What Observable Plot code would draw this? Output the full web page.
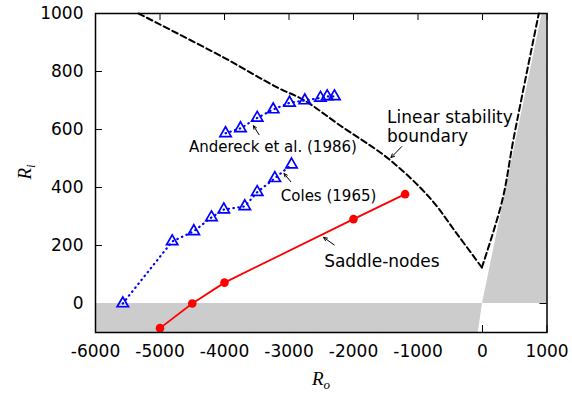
<!DOCTYPE html>
<html>
<head>
<meta charset="utf-8">
<script src="https://cdn.jsdelivr.net/npm/d3@7"></script>
<script src="https://cdn.jsdelivr.net/npm/@observablehq/plot@0.6"></script>
<style>
  html, body { margin: 0; padding: 0; background: white; }
</style>
</head>
<body>
<div id="chart"></div>
<script>
// ---- data ----
const xTicks = [-6000, -5000, -4000, -3000, -2000, -1000, 0, 1000];
const yTicks = [0, 200, 400, 600, 800, 1000];

// Andereck et al. (1986) — upper blue triangles
const anderRo = [-3984, -3752, -3493, -3245, -2992, -2755, -2512, -2408, -2295];
const anderRi = [587, 604, 640, 669, 692, 700, 709, 714, 714];

// Coles (1965) — lower blue triangles
const colesRo = [-5577, -4811, -4476, -4202, -4011, -3685, -3493, -3220, -2961];
const colesRi = [0, 214, 249, 297, 324, 335, 384, 432, 479];

// Saddle-nodes — red
const saddleRo = [-5000, -4500, -4000, -2000, -1200];
const saddleRi = [-85, 0, 72, 291, 377];

// Linear stability boundary — dashed black (left branch, then right branch from the cusp)
const linLeftRo = [-5333, -4011, -3183, -2775, -2202, -1457, -820, -392, -10];
const linLeftRi = [1000, 848, 745, 702, 613, 499, 365, 239, 124];
const linRightRo = [-10, 305, 485, 873];
const linRightRi = [124, 354, 572, 1000];

// Grey (Rayleigh-stable) regions
const bandRi = [-100, 0];
const bandEdgeRo = [-65, 0];
const wedgeRi = [0, 1000];
const wedgeEdgeRo = [0, 925];

// Annotations
const labelText = ["Andereck et al. (1986)", "Coles (1965)", "Saddle-nodes", "Linear stability\nboundary"];
const labelRo = [-4551, -3127, -2455, -1481];
const labelRi = [563, 394, 172, 666];
const labelSize = [15, 15, 17, 17];

const arrowFromRo = [-3464, -2972, -2300, -1253];
const arrowFromRi = [582, 420, 202, 541];
const arrowToRo = [-3551, -3076, -2464, -1419];
const arrowToRi = [613, 448, 228, 503];

// ---- build tables ----
const zip = (xs, ys) => xs.map((x, i) => ({Ro: x, Ri: ys[i]}));
const ander = zip(anderRo, anderRi);
const coles = zip(colesRo, colesRi);
const saddle = zip(saddleRo, saddleRi);
const linLeft = zip(linLeftRo, linLeftRi);
const linRight = zip(linRightRo, linRightRi);
const band = bandRi.map((r, i) => ({Ri: r, edge: bandEdgeRo[i]}));
const wedge = wedgeRi.map((r, i) => ({Ri: r, edge: wedgeEdgeRo[i]}));
const labels = labelText.map((t, i) => ({t, Ro: labelRo[i], Ri: labelRi[i], s: labelSize[i]}));
const arrows = arrowFromRo.map((x, i) => ({x1: x, y1: arrowFromRi[i], x2: arrowToRo[i], y2: arrowToRi[i]}));

const xMin = -6000, xMax = 1000, yMin = -100, yMax = 1000;
const tickLenY = 24;   // 7px in Ri units
const tickLenX = 108;  // 7px in Ro units
const grey = "#cccccc";
const dashed = {x: "Ro", y: "Ri", stroke: "black", strokeWidth: 2, strokeDasharray: "6,3.5", curve: "catmull-rom"};
const dotted = {x: "Ro", y: "Ri", stroke: "blue", strokeWidth: 2.2, strokeDasharray: "0.5,4.5", strokeLinecap: "round"};
const tri = {x: "Ro", y: "Ri", symbol: "triangle", r: 4.2, stroke: "blue", strokeWidth: 1.7, fill: "none"};

const chart = Plot.plot({
  width: 572,
  height: 396,
  marginLeft: 95,
  marginRight: 25.5,
  marginTop: 13,
  marginBottom: 64,
  style: {fontFamily: "DejaVu Sans", fontSize: "17px", background: "white", color: "black"},
  x: {domain: [xMin, xMax]},
  y: {domain: [yMin, yMax]},
  marks: [
    // inward ticks on all four sides
    Plot.ruleX(xTicks, {y1: yMax, y2: yMax - tickLenY, stroke: "black"}),
    Plot.ruleX(xTicks, {y1: yMin, y2: yMin + tickLenY, stroke: "black"}),
    Plot.ruleY(yTicks, {x1: xMin, x2: xMin + tickLenX, stroke: "black"}),
    Plot.ruleY(yTicks, {x1: xMax, x2: xMax - tickLenX, stroke: "black"}),
    // grey regions
    Plot.areaX(band, {y: "Ri", x1: xMin, x2: "edge", fill: grey}),
    Plot.areaX(wedge, {y: "Ri", x1: "edge", x2: xMax, fill: grey}),
    // tick labels
    Plot.axisX({ticks: xTicks, tickSize: 0, tickPadding: 12, label: null, tickFormat: d => String(d)}),
    Plot.axisY({ticks: yTicks, tickSize: 0, tickPadding: 12, label: null, tickFormat: d => String(d)}),
    // linear stability boundary
    Plot.line(linLeft, dashed),
    Plot.line(linRight, dashed),
    // experimental data
    Plot.line(coles, dotted),
    Plot.dot(coles, tri),
    Plot.line(ander, dotted),
    Plot.dot(ander, tri),
    // saddle-nodes
    Plot.line(saddle, {x: "Ro", y: "Ri", stroke: "red", strokeWidth: 1.8}),
    Plot.dot(saddle, {x: "Ro", y: "Ri", r: 4.3, fill: "red"}),
    // annotations
    Plot.arrow(arrows, {x1: "x1", y1: "y1", x2: "x2", y2: "y2", stroke: "black", strokeWidth: 1, headLength: 6, headAngle: 50}),
    Plot.text(labels, {x: "Ro", y: "Ri", text: "t", fontSize: "s", textAnchor: "start", lineAnchor: "top", lineHeight: 1.08, fill: "black"}),
    Plot.frame({stroke: "black", strokeWidth: 1.5})
  ]
});

document.getElementById("chart").appendChild(chart);

// axis titles with real subscripts
const svg = d3.select(chart);
const yl = svg.append("text")
  .attr("transform", "translate(31,172) rotate(-90)")
  .attr("text-anchor", "middle")
  .style("font-family", "'Liberation Serif', serif")
  .style("font-style", "italic")
  .style("font-size", "19px")
  .attr("fill", "black");
yl.append("tspan").text("R");
yl.append("tspan").attr("dy", 4).style("font-size", "13px").text("i");

const xl = svg.append("text")
  .attr("x", 321)
  .attr("y", 385)
  .attr("text-anchor", "middle")
  .style("font-family", "'Liberation Serif', serif")
  .style("font-style", "italic")
  .style("font-size", "19px")
  .attr("fill", "black");
xl.append("tspan").text("R");
xl.append("tspan").attr("dy", 4).style("font-size", "13px").text("o");
</script>
</body>
</html>
